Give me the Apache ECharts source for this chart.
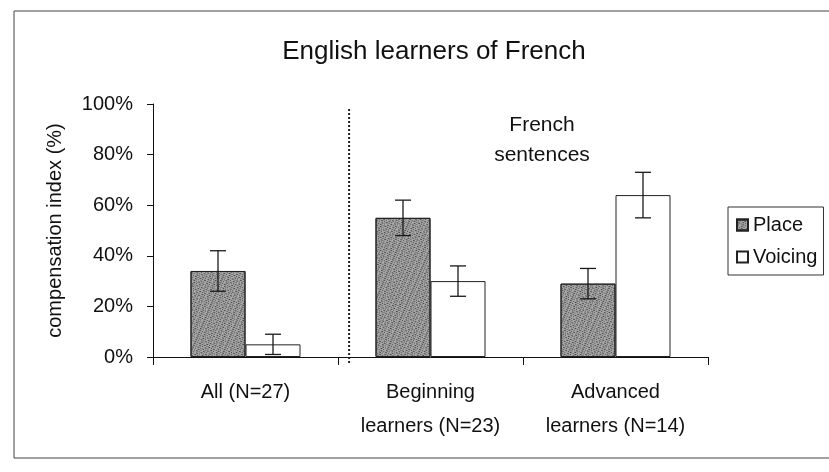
<!DOCTYPE html>
<html>
<head>
<meta charset="utf-8">
<script src="https://cdn.jsdelivr.net/npm/echarts@6/dist/echarts.min.js"></script>
<style>
html,body{margin:0;padding:0;background:#fff;}
#chart{width:829px;height:472px;}
</style>
</head>
<body>
<div id="chart"></div>
<script>
const categories = ['All (N=27)', 'Beginning\nlearners (N=23)', 'Advanced\nlearners (N=14)'];
const placeValues = [34, 55, 29];
const placeErrors = [8, 7, 6];
const voicingValues = [5, 30, 64];
const voicingErrors = [4, 6, 9];
const yTicks = [0, 20, 40, 60, 80, 100];
const seriesNames = ['Place', 'Voicing'];
const titleText = 'English learners of French';
const noteText = 'French\nsentences';
const yAxisName = 'compensation index (%)';
const dividerPosition = 1.06;

const FONT = '"Liberation Sans", Arial, sans-serif';
const BAR_W = 55;

const chart = echarts.init(document.getElementById('chart'), null, {renderer: 'canvas'});

function errData(vals, errs) {
  return vals.map((v, i) => [i, v, errs[i]]);
}
function errRender(offset) {
  return function (params, api) {
    const x = api.value(0), v = api.value(1), e = api.value(2);
    const hi = api.coord([x, v + e]);
    const lo = api.coord([x, v - e]);
    const px = hi[0] + offset;
    const cap = 8;
    const st = {stroke: '#1a1a1a', lineWidth: 1.3};
    return {
      type: 'group',
      children: [
        {type: 'line', shape: {x1: px, y1: hi[1], x2: px, y2: lo[1]}, style: st},
        {type: 'line', shape: {x1: px - cap, y1: hi[1], x2: px + cap, y2: hi[1]}, style: st},
        {type: 'line', shape: {x1: px - cap, y1: lo[1], x2: px + cap, y2: lo[1]}, style: st}
      ]
    };
  };
}

const option = {
  backgroundColor: '#fff',
  animation: false,
  title: {
    text: titleText,
    left: 429,
    textAlign: 'center',
    top: 34,
    textStyle: {fontFamily: FONT, fontSize: 26, fontWeight: 'normal', color: '#111'}
  },
  legend: {
    data: seriesNames,
    orient: 'vertical',
    left: 728,
    top: 207,
    padding: [8, 6, 8, 8],
    itemGap: 12,
    itemWidth: 11,
    itemHeight: 11,
    icon: 'rect',
    borderColor: '#333',
    borderWidth: 1,
    textStyle: {fontFamily: FONT, fontSize: 20, color: '#111'}
  },
  grid: {left: 153, right: 121, top: 104, bottom: 115, containLabel: false},
  xAxis: [
    {
      type: 'category',
      data: categories,
      axisLine: {lineStyle: {color: '#111', width: 1}},
      axisTick: {show: true, length: 8, inside: false, alignWithLabel: false, lineStyle: {color: '#111'}},
      axisLabel: {fontFamily: FONT, fontSize: 20, color: '#111', margin: 18, lineHeight: 34, interval: 0},
      splitLine: {show: false}
    },
    {
      type: 'value',
      min: 0, max: 3,
      show: false
    }
  ],
  yAxis: {
    type: 'value',
    min: yTicks[0],
    max: yTicks[yTicks.length - 1],
    interval: 20,
    name: yAxisName,
    nameLocation: 'middle',
    nameGap: 88,
    nameRotate: 90,
    nameTextStyle: {fontFamily: FONT, fontSize: 20, color: '#111'},
    axisLine: {show: true, lineStyle: {color: '#111', width: 1}},
    axisTick: {show: true, length: 6, lineStyle: {color: '#111'}},
    axisLabel: {fontFamily: FONT, fontSize: 20, color: '#111', margin: 20, formatter: '{value}%'},
    splitLine: {show: false}
  },
  graphic: [
    {
      type: 'rect',
      shape: {x: 14, y: 11, width: 840, height: 447},
      style: {fill: 'none', stroke: '#444', lineWidth: 1},
      silent: true, z: -1
    },
    {
      type: 'text',
      x: 542,
      y: 110,
      style: {
        text: noteText, fontFamily: FONT, fontSize: 21, fill: '#111',
        lineHeight: 30, align: 'center', verticalAlign: 'top'
      }
    }
  ],
  series: [
    {
      name: seriesNames[0],
      type: 'bar',
      data: placeValues,
      barWidth: BAR_W,
      barGap: '0%',
      itemStyle: {
        color: '#a9a9a9',
        borderColor: '#222',
        borderWidth: 1,
        decal: {
          symbol: 'rect',
          symbolSize: 1,
          color: 'rgba(40,40,40,0.75)',
          dashArrayX: [[1, 1, 2, 1], [2, 1, 1, 2]],
          dashArrayY: [1, 1],
          rotation: 0.4
        }
      },
      z: 2
    },
    {
      name: seriesNames[1],
      type: 'bar',
      data: voicingValues,
      barWidth: BAR_W,
      barGap: '0%',
      itemStyle: {color: '#fff', borderColor: '#222', borderWidth: 1},
      z: 2
    },
    {
      name: 'placeErr',
      type: 'custom',
      data: errData(placeValues, placeErrors),
      renderItem: errRender(-BAR_W / 2),
      encode: {x: 0, y: 1},
      z: 5,
      silent: true
    },
    {
      name: 'voicingErr',
      type: 'custom',
      data: errData(voicingValues, voicingErrors),
      renderItem: errRender(BAR_W / 2),
      encode: {x: 0, y: 1},
      z: 5,
      silent: true
    },
    {
      name: 'divider',
      type: 'custom',
      xAxisIndex: 1,
      data: [[dividerPosition, -3, 98]],
      renderItem: function (params, api) {
        const a = api.coord([api.value(0), api.value(2)]);
        const b = api.coord([api.value(0), api.value(1)]);
        return {
          type: 'line',
          shape: {x1: a[0], y1: a[1], x2: b[0], y2: b[1]},
          style: {stroke: '#222', lineWidth: 2, lineDash: [2, 2]}
        };
      },
      encode: {x: 0, y: 1},
      clip: false,
      z: 4,
      silent: true
    }
  ]
};
chart.setOption(option);
</script>
</body>
</html>
